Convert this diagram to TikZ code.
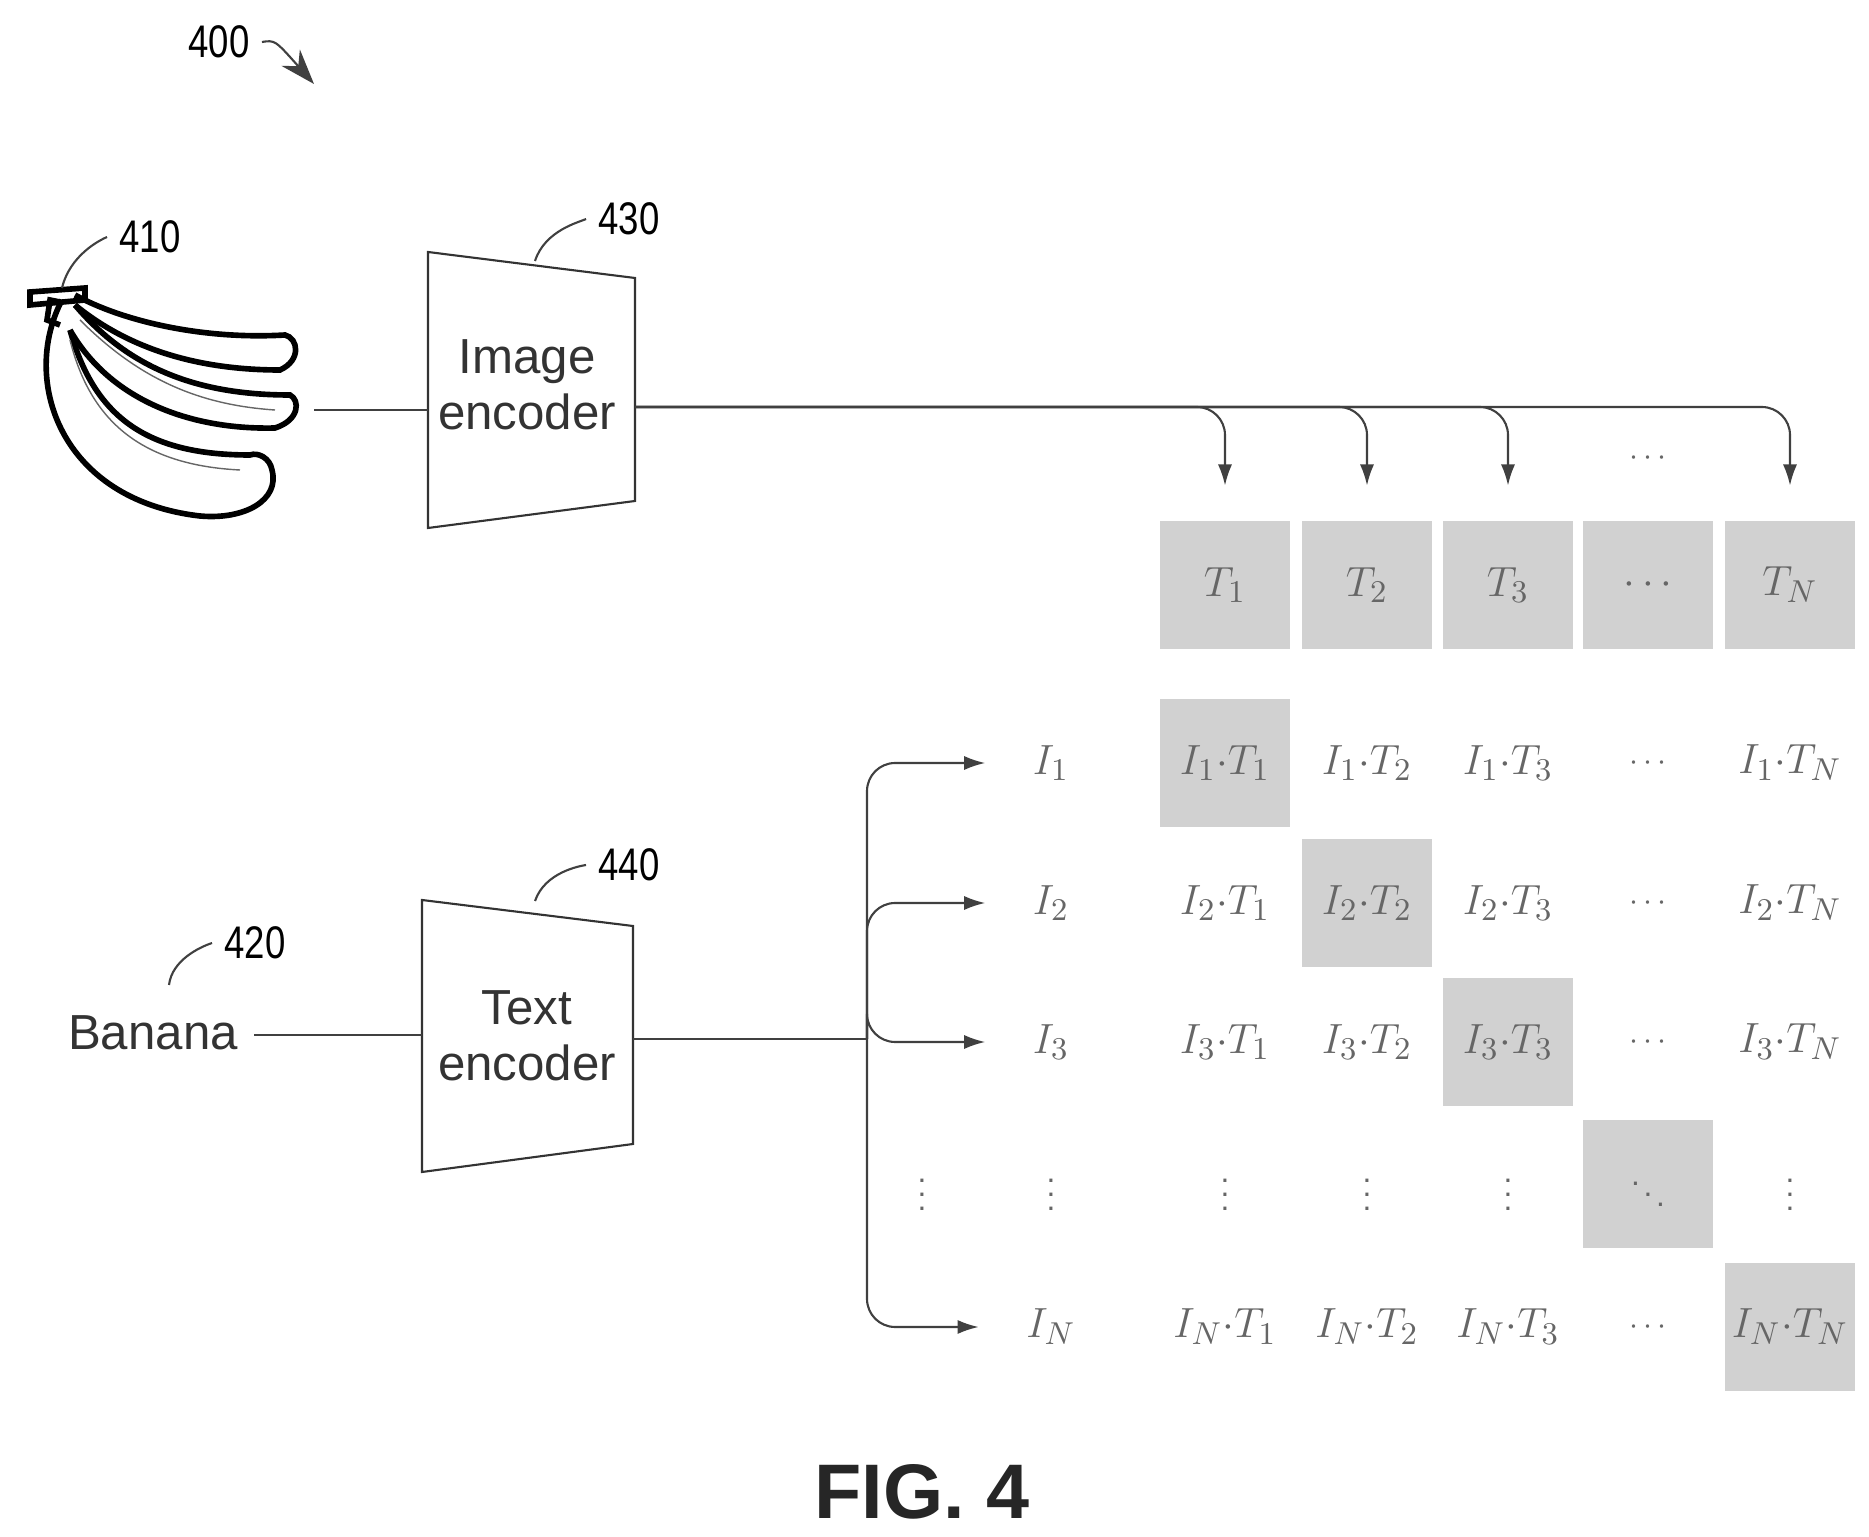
\documentclass[tikz,border=0pt]{standalone}
\usepackage{fontspec}
\setmainfont{Liberation Sans}
\usetikzlibrary{arrows.meta}
\begin{document}
\begin{tikzpicture}[x=0.01cm,y=-0.01cm]
\tikzstyle{line} = [color = black!75, line width = 0.6pt] % standard connector
\tikzstyle{arrow} = [line, rounded corners = 8pt, -{Latex[length=6pt,width=4pt]}] % arrow with rounded bend
\tikzstyle{encoder} = [draw, line width = 0.6pt, color = black!80] % trapezoid encoder
\tikzstyle{label} = [align = center, font = \fontsize{14}{16}\selectfont, text = black!80] % encoder and input text
\tikzstyle{cell} = [fill = black!18, minimum width = 1.3cm, minimum height = 1.27cm, inner sep = 0pt] % shaded box
\tikzstyle{entry} = [text = black!60, font = \fontsize{13}{13}\selectfont] % matrix entry
\tikzstyle{ref} = [font = \fontsize{13}{13}\selectfont\addfontfeature{FakeStretch=0.8}] % reference numeral
\useasboundingbox (0,0) rectangle (1869,1537);
% reference numeral 400
\node(n400)[ref] at (219,42){400};
\draw[line, -{Stealth[length=10pt,width=7pt]}](n400.east) .. controls (275,40) .. (314,84);
% banana bunch 410
\draw[line width = 1.6pt, black](62,300) .. controls (20,380) and (60,500) .. (200,516) .. controls (245,520) and (280,500) .. (272,470) .. controls (270,458) and (258,452) .. (250,455) .. controls (150,455) and (95,420) .. (70,330);
\draw[line width = 1.6pt, black](70,330) .. controls (110,400) and (190,430) .. (275,428) .. controls (300,420) and (300,400) .. (290,395) .. controls (200,395) and (130,370) .. (75,305);
\draw[line width = 1.6pt, black](75,305) .. controls (130,350) and (200,370) .. (280,370) .. controls (302,360) and (298,338) .. (285,335) .. controls (200,340) and (120,320) .. (75,295);
\draw[line width = 1.6pt, black](60,302) -- (50,300) -- (47,320) -- (60,325);
\draw[line width = 1.6pt, black](30,292) -- (85,288) -- (85,300) -- (30,305) -- cycle;
\draw[line width = 0.4pt, black!60](70,340) .. controls (90,420) and (140,465) .. (240,470);
\draw[line width = 0.4pt, black!60](80,320) .. controls (140,380) and (200,405) .. (275,410);
\coordinate(banana) at (314,410);
\node(n410)[ref] at (150,237){410};
\draw[line](62,288) .. controls (70,255) and (100,240) .. (n410.west);
% image encoder 430
\draw[encoder](428,252) -- (635,278) -- (635,501) -- (428,528) -- cycle;
\node(imgenc)[label] at (527,385){Image\\encoder};
\coordinate(imgin) at (428,410);
\coordinate(imgout) at (635,407);
\draw[line](banana) -- (imgin);
\node(n430)[ref] at (629,219){430};
\draw[line](535,261) .. controls (545,230) and (580,222) .. (n430.west);
% image embeddings T
\foreach \i/\x/\t in {1/1225/T_1,2/1367/T_2,3/1508/T_3,4/1648/\cdots,5/1790/T_N}{
  \node(T\i)[cell, entry] at (\x,585){$\t$};
}
\foreach \i in {1,2,3,5}{
  \draw[arrow](imgout) -| ([yshift=10pt]T\i.north);
}
\node(tdots)[entry, font = \small] at (1648,458){$\cdots$};
% text encoder 440
\node(banana420)[label] at (153,1033){Banana};
\draw[encoder](422,900) -- (633,926) -- (633,1144) -- (422,1172) -- cycle;
\node(txtenc)[label] at (527,1036){Text\\encoder};
\coordinate(txtin) at (422,1035);
\coordinate(txtout) at (633,1039);
\coordinate(split) at (867,1039);
\draw[line](254,1035) -- (txtin);
\draw[line](txtout) -- (split);
\node(n440)[ref] at (629,865){440};
\draw[line](535,901) .. controls (545,872) and (580,866) .. (n440.west);
\node(n420)[ref] at (255,943){420};
\draw[line](169,985) .. controls (172,960) and (200,947) .. (n420.west);
% diagonal shaded boxes
\foreach \x/\y in {1225/763,1367/903,1508/1042,1648/1184,1790/1327}{
  \node[cell] at (\x,\y){};
}
% text embeddings I and products
\foreach \r/\y/\s in {1/763/1,2/903/2,3/1042/3,5/1327/N}{
  \node(I\r)[entry] at (1051,\y){$I_\s$};
  \draw[arrow](split) |- ([xshift=-10pt]I\r.west);
  \foreach \c/\x/\t in {1/1225/1,2/1367/2,3/1508/3,5/1790/N}{
    \node(P\r\c)[entry] at (\x,\y){$I_\s{\cdot}T_\t$};
  }
  \node(P\r4)[entry, font = \small] at (1648,\y){$\cdots$};
}
\foreach \c/\x in {0/922,1/1051,2/1225,3/1367,4/1508,6/1790}{
  \node(V\c)[entry, font = \small, inner sep = 1pt] at (\x,1184){$\vdots$};
}
\node(D44)[entry, font = \small, inner sep = 1pt] at (1648,1184){$\ddots$};
% figure label
\node(fig)[font = \fontsize{22}{22}\selectfont\bfseries, text = black!85] at (922,1492){FIG. 4};
\end{tikzpicture}
\end{document}
